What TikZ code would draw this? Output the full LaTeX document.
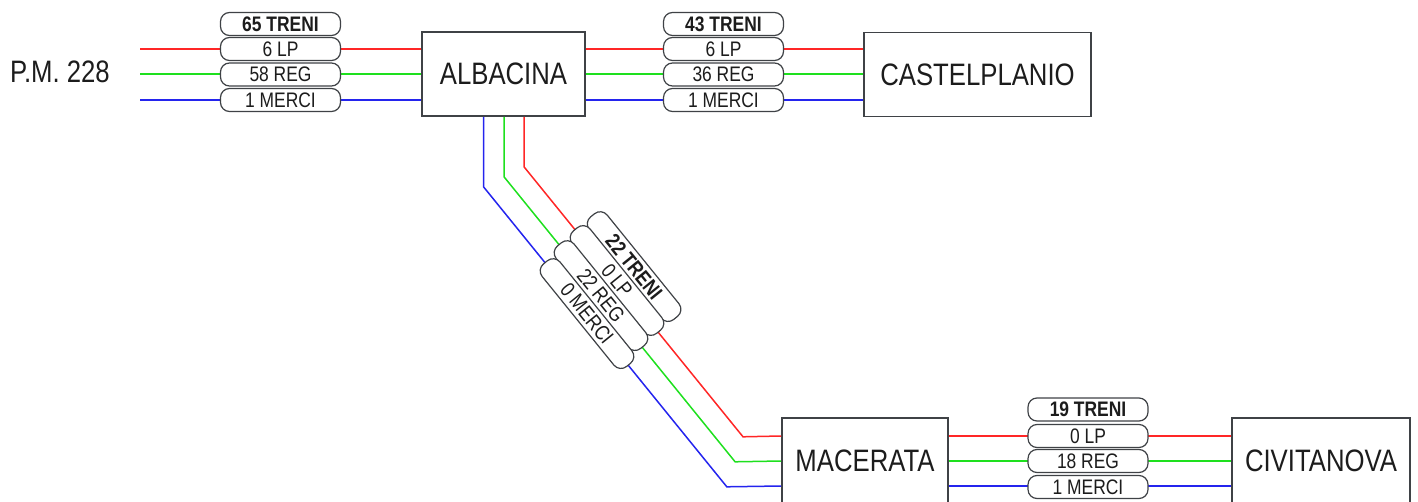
\documentclass[tikz,border=0pt]{standalone}
\usepackage{fontspec}
\setmainfont{Liberation Sans}[FakeStretch=0.83]
\usetikzlibrary{positioning, calc}
\definecolor{lnRed}{HTML}{FF2626}
\definecolor{lnGreen}{HTML}{1EE01E}
\definecolor{lnBlue}{HTML}{2424EE}
\definecolor{bxGrey}{HTML}{3F4246}
\definecolor{txDark}{HTML}{1C1C1C}
\tikzset{
  stbox/.style={rectangle, draw=bxGrey, line width=0.8pt, fill=white,
    minimum height=42pt, inner sep=0pt, text=txDark,
    font=\fontsize{15.5}{18}\selectfont},
  stlabel/.style={inner sep=0pt, text=txDark, font=\fontsize{15.5}{18}\selectfont},
  pill/.style={rectangle, rounded corners=4.5pt, draw=bxGrey, line width=0.6pt,
    fill=white, minimum width=60pt, minimum height=11.5pt, inner sep=0pt,
    text=txDark, font=\fontsize{10.5}{12}\selectfont},
  pillHead/.style={pill, font=\fontsize{10.5}{12}\selectfont\bfseries},
  trkRed/.style={lnRed, line width=0.75pt},
  trkGreen/.style={lnGreen, line width=0.75pt},
  trkBlue/.style={lnBlue, line width=0.75pt}
}
\begin{document}
\begin{tikzpicture}[x=0.5pt, y=-0.5pt]
  \useasboundingbox (0,0) rectangle (1418,502);
  % stations
  \node[stlabel] (pm) at (60,72) {P.M. 228};
  \coordinate (pmEnd) at (140,74);
  \node[stbox, minimum width=81.5pt] (alb) at (503.5,74) {ALBACINA};
  \node[stbox, minimum width=113.5pt] (cas) at (977.5,74.5) {CASTELPLANIO};
  \node[stbox, minimum width=83pt, minimum height=43pt] (mac) at (865,461) {MACERATA};
  \node[stbox, minimum width=89pt, minimum height=43pt] (civ) at (1321,461) {CIVITANOVA};

  % tracks
  \draw[trkRed]   ([yshift=12.5pt]pmEnd) -- ([yshift=12.5pt]pmEnd -| alb.west);
  \draw[trkGreen] (pmEnd) -- (pmEnd -| alb.west);
  \draw[trkBlue]  ([yshift=-13pt]pmEnd) -- ([yshift=-13pt]pmEnd -| alb.west);
  \draw[trkRed]   ([yshift=12.5pt]alb.east) -- ([yshift=12.5pt]alb.east -| cas.west);
  \draw[trkGreen] (alb.east) -- (alb.east -| cas.west);
  \draw[trkBlue]  ([yshift=-13pt]alb.east) -- ([yshift=-13pt]alb.east -| cas.west);
  \draw[trkRed]   ([xshift=10.25pt]alb.south) -- ++(0,50) -- ++(219,270)
    -- ([yshift=12.5pt]mac.west);
  \draw[trkGreen] ([xshift=0.25pt]alb.south) -- ++(0,60) -- ++(231.1,285)
    -- (mac.west);
  \draw[trkBlue]  ([xshift=-10pt]alb.south) -- ++(0,70) -- ++(243.3,300)
    -- ([yshift=-12.5pt]mac.west);
  \draw[trkRed]   ([yshift=12.5pt]mac.east) -- ([yshift=12.5pt]mac.east -| civ.west);
  \draw[trkGreen] (mac.east) -- (mac.east -| civ.west);
  \draw[trkBlue]  ([yshift=-12.5pt]mac.east) -- ([yshift=-12.5pt]mac.east -| civ.west);

  % counts P.M. 228 - Albacina
  \node[pillHead] (a1) at (280.5,24) {65 TRENI};
  \node[pill] (a2) at (280.5,49) {6 LP};
  \node[pill] (a3) at (280.5,74.5) {58 REG};
  \node[pill] (a4) at (280.5,100) {1 MERCI};
  % counts Albacina - Castelplanio
  \node[pillHead] (b1) at (723.5,24) {43 TRENI};
  \node[pill] (b2) at (723.5,49) {6 LP};
  \node[pill] (b3) at (723.5,74.5) {36 REG};
  \node[pill] (b4) at (723.5,100) {1 MERCI};
  % counts Albacina - Macerata
  \node[pillHead, rotate=-51, minimum width=66pt] (c1) at (634.1,266.6) {22 TRENI};
  \node[pill, rotate=-51, minimum width=66pt] (c2) at (617,280.5) {0 LP};
  \node[pill, rotate=-51, minimum width=66pt] (c3) at (601,295.6) {22 REG};
  \node[pill, rotate=-51, minimum width=66pt] (c4) at (587,313.6) {0 MERCI};
  % counts Macerata - Civitanova
  \node[pillHead] (d1) at (1088,409.5) {19 TRENI};
  \node[pill] (d2) at (1088,436) {0 LP};
  \node[pill] (d3) at (1088,461) {18 REG};
  \node[pill] (d4) at (1088,487) {1 MERCI};
\end{tikzpicture}
\end{document}
